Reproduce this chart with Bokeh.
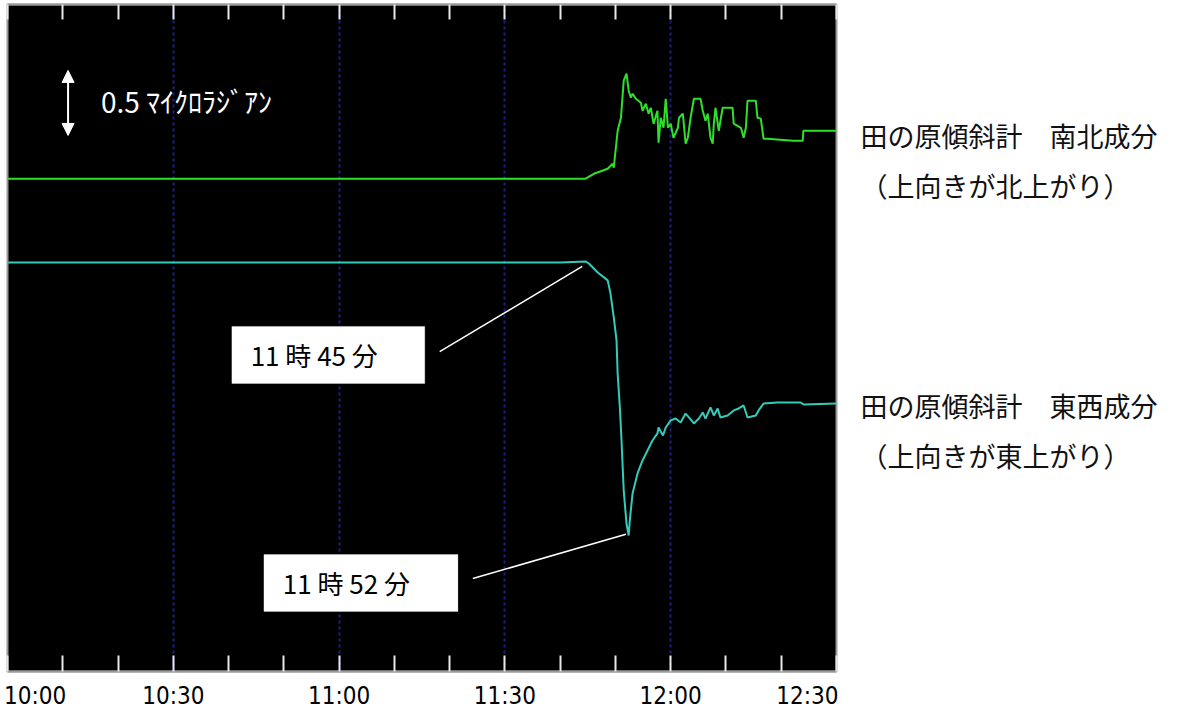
from bokeh.plotting import figure
from bokeh.layouts import row
from bokeh.models import Range1d, FixedTicker, LinearAxis, Label, Arrow, NormalHead, BoxAnnotation, Grid
from bokeh.embed import file_html
from bokeh.resources import INLINE

# time in minutes after 10:00, tilt change in microradians (relative to pre-event level)
ns_time = [0, 104.6, 106.1, 108.6, 109.5, 109.7, 110.4, 111.0, 111.5, 112.0, 112.4, 112.8, 113.1,
           113.7, 114.6, 114.9, 115.5, 116.0, 116.4, 116.9, 117.6, 117.8, 118.2, 118.7, 119.1,
           119.5, 120.0, 120.5, 121.3, 121.5, 122.2, 122.7, 123.1, 123.6, 124.2, 125.4, 125.8,
           126.3, 126.7, 127.2, 127.6, 127.8, 128.1, 128.7, 129.4, 131.2, 131.4, 132.7, 133.2,
           133.6, 133.9, 135.4, 135.7, 136.3, 136.8, 137.5, 142.2, 143.9, 144.0, 150.0]
ns_tilt = [0, 0, 0.038, 0.077, 0.115, 0.085, 0.369, 0.469, 0.754, 0.808, 0.677, 0.623, 0.654,
           0.615, 0.585, 0.523, 0.577, 0.500, 0.546, 0.423, 0.523, 0.277, 0.469, 0.392, 0.615,
           0.392, 0.423, 0.315, 0.392, 0.469, 0.500, 0.269, 0.315, 0.469, 0.615, 0.615, 0.523,
           0.446, 0.500, 0.315, 0.269, 0.423, 0.546, 0.369, 0.546, 0.546, 0.423, 0.392, 0.315,
           0.392, 0.600, 0.600, 0.469, 0.462, 0.308, 0.308, 0.292, 0.292, 0.369, 0.369]

ew_time = [0, 100.1, 104.6, 105.2, 106.8, 108.6, 109.1, 109.7, 110.2, 110.4, 110.8, 111.1, 111.5,
           112.0, 112.4, 112.6, 113.1, 114.0, 114.9, 115.8, 116.7, 117.6, 117.8, 118.6, 119.1,
           120.0, 120.9, 121.8, 122.7, 123.3, 124.2, 125.1, 125.8, 126.3, 127.2, 127.8, 128.5,
           129.0, 130.3, 131.4, 132.3, 133.2, 133.9, 135.4, 135.9, 136.8, 139.3, 143.5, 144.0, 150.0]
ew_tilt = [0, 0, 0.008, -0.008, -0.077, -0.138, -0.238, -0.423, -0.600, -0.854, -1.115, -1.369,
           -1.754, -2.008, -2.100, -1.985, -1.777, -1.623, -1.523, -1.446, -1.369, -1.315, -1.269,
           -1.331, -1.269, -1.215, -1.200, -1.231, -1.162, -1.192, -1.238, -1.200, -1.154, -1.200,
           -1.115, -1.177, -1.123, -1.192, -1.177, -1.138, -1.123, -1.100, -1.192, -1.177, -1.138,
           -1.085, -1.077, -1.077, -1.092, -1.085]

grid_minutes = [30, 60, 90, 120]
# label anchor minutes (edge labels sit inside the plot edges) and their texts
label_minutes = [5, 30, 60, 90, 120, 145]
tick_labels = ["10:00", "10:30", "11:00", "11:30", "12:00", "12:30"]
minor_minutes = list(range(0, 151, 10))

ns_label = ["田の原傾斜計　南北成分", "（上向きが北上がり）"]
ew_label = ["田の原傾斜計　東西成分", "（上向きが東上がり）"]
scale_label = "0.5 ﾏｲｸﾛﾗｼﾞｱﾝ"
event_labels = ["11 時 45 分", "11 時 52 分"]
event_minutes = [105, 112]

# display offsets of the two traces (strip chart layout)
NS_BASE = 3.79
EW_BASE = 3.146

tick_font = "DejaVu Sans Condensed, sans-serif"
jp_font = "Noto Sans CJK JP"
H = 713

p = figure(width=838, height=H, x_range=Range1d(0, 150), y_range=Range1d(0, 5.13),
           x_axis_type=None, y_axis_type=None, output_backend="svg", toolbar_location=None,
           min_border_left=7, min_border_right=2, min_border_top=4, min_border_bottom=H - 671,
           background_fill_color="black", border_fill_color="white",
           outline_line_color="#9a9a9a", outline_line_width=2)

grid = Grid(dimension=0, ticker=FixedTicker(ticks=grid_minutes), grid_line_color="#1e1e86",
            grid_line_dash="3 3", grid_line_width=2)
p.add_layout(grid)

xb = LinearAxis(ticker=FixedTicker(ticks=label_minutes, minor_ticks=minor_minutes),
                major_label_overrides={m: l for m, l in zip(label_minutes, tick_labels)},
                major_tick_in=0, major_tick_out=0, major_tick_line_color=None,
                minor_tick_in=16, minor_tick_out=0, minor_tick_line_color="#e8e8e8",
                minor_tick_line_width=2,
                axis_line_color="#9a9a9a", axis_line_width=2,
                major_label_text_font=tick_font, major_label_text_font_size="24px",
                major_label_text_color="black", major_label_standoff=10)
p.add_layout(xb, "below")
xt = LinearAxis(ticker=FixedTicker(ticks=[], minor_ticks=minor_minutes), major_label_standoff=0,
                major_tick_in=0, major_tick_out=0, major_tick_line_color=None,
                minor_tick_in=15, minor_tick_out=0, minor_tick_line_color="#e8e8e8",
                minor_tick_line_width=2,
                axis_line_color="#9a9a9a", axis_line_width=2)
p.add_layout(xt, "above")

p.line(ns_time, [NS_BASE + v for v in ns_tilt], line_color="#2fe02a", line_width=2)
p.line(ew_time, [EW_BASE + v for v in ew_tilt], line_color="#33ccbb", line_width=2)

# scale arrow (0.5 microradian)
p.add_layout(Arrow(start=NormalHead(size=12, fill_color="white", line_color="white"),
                   end=NormalHead(size=12, fill_color="white", line_color="white"),
                   x_start=10.96, y_start=4.123, x_end=10.96, y_end=4.123 + 0.5,
                   line_color="white", line_width=2))
p.add_layout(Label(x=16.9, y=4.39, text=scale_label, text_baseline="middle",
                   text_font=jp_font, text_font_size="28px", text_color="white"))

# event callouts
boxes = [(40.6, 75.5, 2.654, 2.215), (46.4, 81.5, 0.900, 0.462)]
for (l, r, t, b), txt in zip(boxes, event_labels):
    p.add_layout(BoxAnnotation(left=l, right=r, top=t, bottom=b, fill_color="white",
                               fill_alpha=1.0, line_color="white"))
    p.add_layout(Label(x=l + 3.4, y=(t + b) / 2, text=txt, text_baseline="middle",
                       text_font=jp_font, text_font_size="26px", text_color="black"))
p.add_layout(Arrow(end=None, x_start=78.2, y_start=2.46, x_end=event_minutes[0] - 1.0,
                   y_end=EW_BASE - 0.03, line_color="white", line_width=1.5))
p.add_layout(Arrow(end=None, x_start=84.2, y_start=0.715, x_end=event_minutes[1] - 0.1,
                   y_end=EW_BASE - 2.09, line_color="white", line_width=1.5))

# trace labels on the right (separate panel sharing the vertical scale)
q = figure(width=347, height=H, x_range=Range1d(0, 347), y_range=p.y_range,
           x_axis_type=None, y_axis_type=None, output_backend="svg", toolbar_location=None,
           min_border_left=0, min_border_right=0, min_border_top=4, min_border_bottom=H - 671,
           outline_line_color=None, background_fill_color="white", border_fill_color="white")
for ys, lines in [((4.123, 3.738), ns_label), ((2.046, 1.662), ew_label)]:
    for y, txt in zip(ys, lines):
        q.add_layout(Label(x=22, y=y, text=txt, text_baseline="middle",
                           text_font=jp_font, text_font_size="27px", text_color="#111111"))

layout = row(p, q, spacing=0)
open("out.html", "w").write(file_html(layout, INLINE))
